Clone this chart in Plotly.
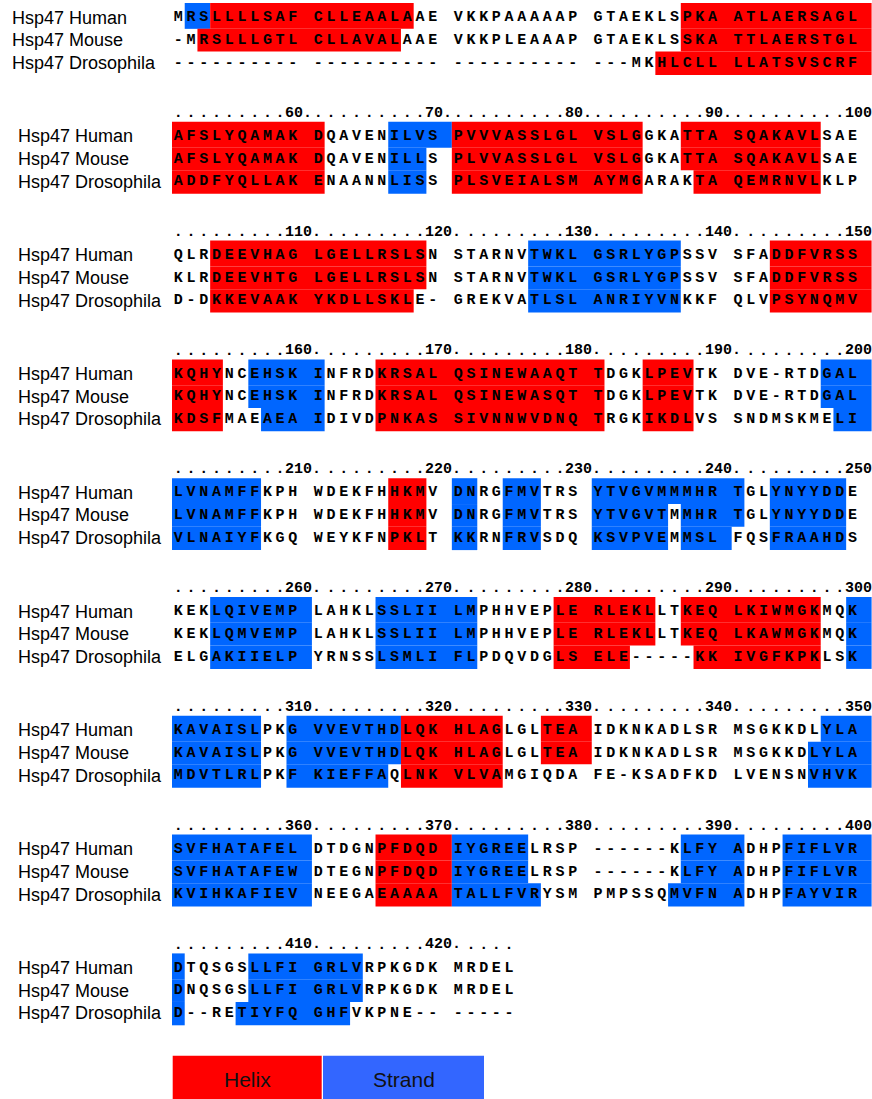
import plotly.graph_objects as go

# ---------------- data ----------------
NAMES = ["Hsp47 Human", "Hsp47 Mouse", "Hsp47 Drosophila"]

HUMAN = ("MRSLLLLSAF CLLEAALAAE VKKPAAAAAP GTAEKLSPKA ATLAERSAGL "
         "AFSLYQAMAK DQAVENILVS PVVVASSLGL VSLGGKATTA SQAKAVLSAE "
         "QLRDEEVHAG LGELLRSLSN STARNVTWKL GSRLYGPSSV SFADDFVRSS "
         "KQHYNCEHSK INFRDKRSAL QSINEWAAQT TDGKLPEVTK DVE-RTDGAL "
         "LVNAMFFKPH WDEKFHHKMV DNRGFMVTRS YTVGVMMMHR TGLYNYYDDE "
         "KEKLQIVEMP LAHKLSSLII LMPHHVEPLE RLEKLLTKEQ LKIWMGKMQK "
         "KAVAISLPKG VVEVTHDLQK HLAGLGLTEA IDKNKADLSR MSGKKDLYLA "
         "SVFHATAFEL DTDGNPFDQD IYGREELRSP ------KLFY ADHPFIFLVR "
         "DTQSGSLLFI GRLVRPKGDK MRDEL").replace(" ", "")

MOUSE = ("-MRSLLLGTL CLLAVALAAE VKKPLEAAAP GTAEKLSSKA TTLAERSTGL "
         "AFSLYQAMAK DQAVENILLS PLVVASSLGL VSLGGKATTA SQAKAVLSAE "
         "KLRDEEVHTG LGELLRSLSN STARNVTWKL GSRLYGPSSV SFADDFVRSS "
         "KQHYNCEHSK INFRDKRSAL QSINEWASQT TDGKLPEVTK DVE-RTDGAL "
         "LVNAMFFKPH WDEKFHHKMV DNRGFMVTRS YTVGVTMMHR TGLYNYYDDE "
         "KEKLQMVEMP LAHKLSSLII LMPHHVEPLE RLEKLLTKEQ LKAWMGKMQK "
         "KAVAISLPKG VVEVTHDLQK HLAGLGLTEA IDKNKADLSR MSGKKDLYLA "
         "SVFHATAFEW DTEGNPFDQD IYGREELRSP ------KLFY ADHPFIFLVR "
         "DNQSGSLLFI GRLVRPKGDK MRDEL").replace(" ", "")

DROSOPHILA = ("---------- ---------- ---------- ---MKHLCLL LLATSVSCRF "
              "ADDFYQLLAK ENAANNLISS PLSVEIALSM AYMGARAKTA QEMRNVLKLP "
              "D-DKKEVAAK YKDLLSKLE- GREKVATLSL ANRIYVNKKF QLVPSYNQMV "
              "KDSFMAEAEA IDIVDPNKAS SIVNNWVDNQ TRGKIKDLVS SNDMSKMELI "
              "VLNAIYFKGQ WEYKFNPKLT KKRNFRVSDQ KSVPVEMMSL FQSFRAAHDS "
              "ELGAKIIELP YRNSSLSMLI FLPDQVDGLS ELE-----KK IVGFKPKLSK "
              "MDVTLRLPKF KIEFFAQLNK VLVAMGIQDA FE-KSADFKD LVENSNVHVK "
              "KVIHKAFIEV NEEGAEAAAA TALLFVRYSM PMPSSQMVFN ADHPFAYVIR "
              "D--RETIYFQ GHFVKPNE-- -----").replace(" ", "")

# secondary structure segments: (type, first column, last column)
HUMAN_SS = [("E", 2, 3), ("H", 4, 18), ("H", 38, 61), ("E", 67, 70), ("H", 71, 84),
            ("H", 88, 97), ("H", 104, 119), ("E", 127, 137), ("H", 144, 154),
            ("E", 157, 161), ("H", 166, 181), ("H", 185, 188), ("E", 198, 207),
            ("H", 217, 219), ("E", 221, 222), ("E", 225, 227), ("E", 231, 241),
            ("E", 244, 249), ("E", 254, 260), ("E", 266, 272), ("H", 279, 285),
            ("H", 288, 297), ("E", 300, 307), ("E", 310, 317), ("H", 318, 324),
            ("H", 328, 330), ("E", 348, 360), ("H", 366, 370), ("E", 371, 376),
            ("E", 388, 391), ("E", 395, 401), ("E", 407, 414)]
MOUSE_SS = [("H", 3, 17), ("H", 38, 61), ("E", 67, 69), ("H", 71, 84),
            ("H", 88, 97), ("H", 104, 119), ("E", 127, 137), ("H", 144, 154),
            ("E", 157, 161), ("H", 166, 181), ("H", 185, 188), ("E", 198, 207),
            ("H", 217, 219), ("E", 221, 222), ("E", 225, 227), ("E", 231, 236),
            ("E", 238, 241), ("E", 244, 249), ("E", 254, 260), ("E", 266, 272),
            ("H", 279, 285), ("H", 288, 297), ("E", 300, 307), ("E", 310, 317),
            ("H", 318, 324), ("H", 328, 330), ("E", 347, 360), ("H", 366, 370),
            ("E", 371, 376), ("E", 388, 391), ("E", 395, 401), ("E", 407, 414)]
DROSOPHILA_SS = [("H", 36, 61), ("E", 67, 69), ("H", 71, 84), ("H", 89, 97),
                 ("H", 104, 118), ("E", 127, 137), ("H", 144, 154), ("E", 158, 161),
                 ("H", 166, 181), ("H", 185, 188), ("E", 199, 207), ("H", 217, 219),
                 ("E", 221, 222), ("E", 225, 227), ("E", 231, 236), ("E", 238, 240),
                 ("E", 244, 249), ("E", 254, 260), ("E", 266, 272), ("H", 279, 283),
                 ("H", 289, 297), ("E", 300, 307), ("E", 310, 316), ("H", 318, 324),
                 ("E", 347, 360), ("H", 366, 370), ("E", 371, 377), ("E", 387, 391),
                 ("E", 395, 401), ("E", 406, 413)]

SEQS = [HUMAN, MOUSE, DROSOPHILA]
SS = [HUMAN_SS, MOUSE_SS, DROSOPHILA_SS]
LEGEND_LABELS = ["Helix", "Strand"]

# ---------------- style / layout ----------------
W, H = 872, 1099
X0, SLOT = 172.0, 12.72
Y0, BLOCK_PITCH, ROW = 17.5, 118.8, 22.7
PER_LINE = 50
HELIX = "#FF0000"
STRAND = "#0066FF"
LEG_COLORS = ["#FF0000", "#3366FF"]
MONO = "Liberation Mono, Courier New, monospace"
SANS = "Liberation Sans, Arial, Helvetica, sans-serif"


def slot_of(p):
    return (p - 1) + (p - 1) // 10


def x_center(p):
    return X0 + (slot_of(p) + 0.5) * SLOT


def x_left(p):
    return X0 + slot_of(p) * SLOT


def x_right(p):
    return X0 + (slot_of(p) + 1) * SLOT + (SLOT if p % 10 == 0 else 0)


def row_y(b, r):
    return Y0 + b * BLOCK_PITCH + r * ROW


n_cols = len(HUMAN)
n_blocks = (n_cols + PER_LINE - 1) // PER_LINE

fig = go.Figure()
shapes = []
annotations = []

# secondary-structure boxes
for r, segs in enumerate(SS):
    top_ext = 14.5 if r == 0 else ROW / 2
    bot_ext = 12.0 if r == 2 else ROW / 2
    for t, a, c in segs:
        for b in range((a - 1) // PER_LINE, (c - 1) // PER_LINE + 1):
            la = max(a, b * PER_LINE + 1) - b * PER_LINE
            lc = min(c, b * PER_LINE + PER_LINE) - b * PER_LINE
            yc = row_y(b, r)
            shapes.append(dict(type="rect", xref="x", yref="y", layer="below",
                               x0=x_left(la), x1=x_right(lc),
                               y0=yc - top_ext, y1=yc + bot_ext,
                               fillcolor=HELIX if t == "H" else STRAND,
                               line=dict(width=0)))

# residues
for r, seq in enumerate(SEQS):
    xs, ys, ts = [], [], []
    for i, ch in enumerate(seq):
        b = i // PER_LINE
        p = i % PER_LINE + 1
        xs.append(x_center(p))
        ys.append(row_y(b, r))
        ts.append(ch)
    fig.add_trace(go.Scatter(x=xs, y=ys, text=ts, mode="text", hoverinfo="skip",
                             textposition="middle center",
                             textfont=dict(family=MONO, size=15, color="black",
                                           weight="bold")))

# names
for b in range(n_blocks):
    lx = 9.5 if b == 0 else 16.0
    for r, name in enumerate(NAMES):
        annotations.append(dict(x=lx, y=row_y(b, r), xref="x", yref="y",
                                text=name, showarrow=False, xanchor="left",
                                yanchor="middle",
                                font=dict(family=SANS, size=18, color="black")))

# ruler
dx, dy = [], []
for b in range(1, n_blocks):
    yc = row_y(b, 0) - 23.0
    block_len = min(PER_LINE, n_cols - b * PER_LINE)
    skip = set()
    for p in range(1, block_len + 1):
        n = b * PER_LINE + p
        if n % 10 == 0:
            label = str(n) + ("." if p < PER_LINE else "")
            annotations.append(dict(x=x_left(p) - 3.5, y=yc, xref="x", yref="y",
                                    text=label, showarrow=False, xanchor="left",
                                    yanchor="middle",
                                    font=dict(family=MONO, size=15, color="black",
                                              weight="bold")))
            if len(str(n)) >= 3:
                skip.add(p + 1)
        elif p not in skip:
            dx.append(x_center(p))
            dy.append(yc)
fig.add_trace(go.Scatter(x=dx, y=dy, text=["."] * len(dx), mode="text",
                         hoverinfo="skip", textposition="middle center",
                         textfont=dict(family=MONO, size=15, color="black",
                                       weight="bold")))

# legend boxes
LEG_X = [(172.7, 321.7), (323.0, 484.0)]
for (x0, x1), lab, col in zip(LEG_X, LEGEND_LABELS, LEG_COLORS):
    shapes.append(dict(type="rect", xref="x", yref="y", layer="below",
                       x0=x0, x1=x1, y0=1055.7, y1=1100, fillcolor=col,
                       line=dict(width=0)))
    annotations.append(dict(x=(x0 + x1) / 2, y=1079.3, xref="x", yref="y",
                            text=lab, showarrow=False, xanchor="center",
                            yanchor="middle",
                            font=dict(family=SANS, size=21, color="#111111")))

fig.update_layout(
    width=W, height=H, margin=dict(l=0, r=0, t=0, b=0),
    paper_bgcolor="white", plot_bgcolor="white", showlegend=False,
    xaxis=dict(range=[0, W], visible=False, fixedrange=True),
    yaxis=dict(range=[H, 0], visible=False, fixedrange=True),
    shapes=shapes, annotations=annotations,
)

fig.write_html("out.html", config={"displayModeBar": False, "staticPlot": True},
               post_script="document.body.style.margin='0px';document.body.style.overflow='hidden';")
